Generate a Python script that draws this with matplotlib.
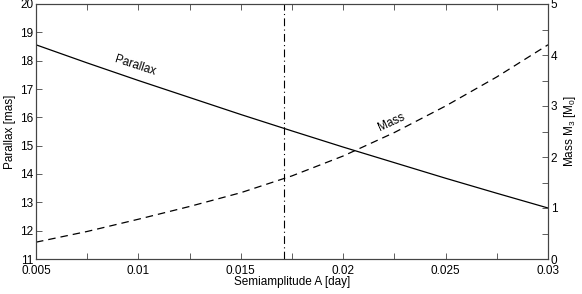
import matplotlib
matplotlib.use("Agg")
import matplotlib.pyplot as plt
from matplotlib.ticker import MultipleLocator, FixedLocator, FuncFormatter

plt.rcParams['font.family'] = ['Liberation Sans', 'DejaVu Sans']
plt.rcParams['mathtext.fontset'] = 'custom'
plt.rcParams['mathtext.rm'] = 'Liberation Sans'
plt.rcParams['mathtext.it'] = 'Liberation Sans'

semiamp = [0.005, 0.0075, 0.01, 0.0125, 0.015, 0.0175, 0.02, 0.0225, 0.025, 0.0275, 0.03]
parallax = [18.56, 17.92, 17.30, 16.70, 16.10, 15.52, 14.95, 14.40, 13.85, 13.32, 12.80]
mass = [0.33, 0.54, 0.78, 1.03, 1.30, 1.63, 2.02, 2.48, 3.00, 3.57, 4.20]
a_mark = 0.0171

fig = plt.figure(figsize=(5.82, 2.94), dpi=100)
ax = fig.add_axes([36/582, 35/294, 512/582, 255/294])
ax2 = ax.twinx()

ax.plot(semiamp, parallax, color='black', lw=0.9)
ax.axvline(a_mark, color='black', lw=0.8, linestyle=(0, (7, 3, 1, 3)))
ax2.plot(semiamp, mass, color='black', lw=0.9, linestyle=(0, (6, 4)))

ax.set_xlim(0.005, 0.03)
ax.set_ylim(11, 20)
ax2.set_ylim(0, 5)

ax.xaxis.set_major_locator(FixedLocator([0.005, 0.01, 0.015, 0.02, 0.025, 0.03]))
ax.xaxis.set_minor_locator(FixedLocator([0.0075, 0.0125, 0.0175, 0.0225, 0.0275]))
ax.xaxis.set_major_formatter(FuncFormatter(lambda v, p: ('%g' % round(v, 4))))
ax.yaxis.set_major_locator(MultipleLocator(1))
ax2.yaxis.set_major_locator(MultipleLocator(1))
ax2.yaxis.set_minor_locator(MultipleLocator(0.5))

for a in (ax, ax2):
    a.tick_params(which='both', direction='in', labelsize=8.5, width=0.6, color='#444444')
    a.tick_params(which='both', length=4)
    for s in a.spines.values():
        s.set_linewidth(0.8)
        s.set_color('#444444')
ax.tick_params(axis='x', which='both', top=True, pad=4.5)
ax.tick_params(axis='y', right=False, pad=2)
ax2.tick_params(axis='y', pad=2)

ax.set_xlabel('Semiamplitude A [day]', fontsize=8.5, labelpad=-1)
ax.set_ylabel('Parallax [mas]', fontsize=8.5, labelpad=3)
ax2.set_ylabel('Mass M$_3$ [M$_0$]', fontsize=8.5, labelpad=3)

ax.text(0.00985, 17.82, 'Parallax', fontsize=8.5, rotation=-18, ha='center', va='center')
ax2.text(0.02237, 2.67, 'Mass', fontsize=8.5, rotation=25, ha='center', va='center')

fig.savefig('out.png', dpi=100)
